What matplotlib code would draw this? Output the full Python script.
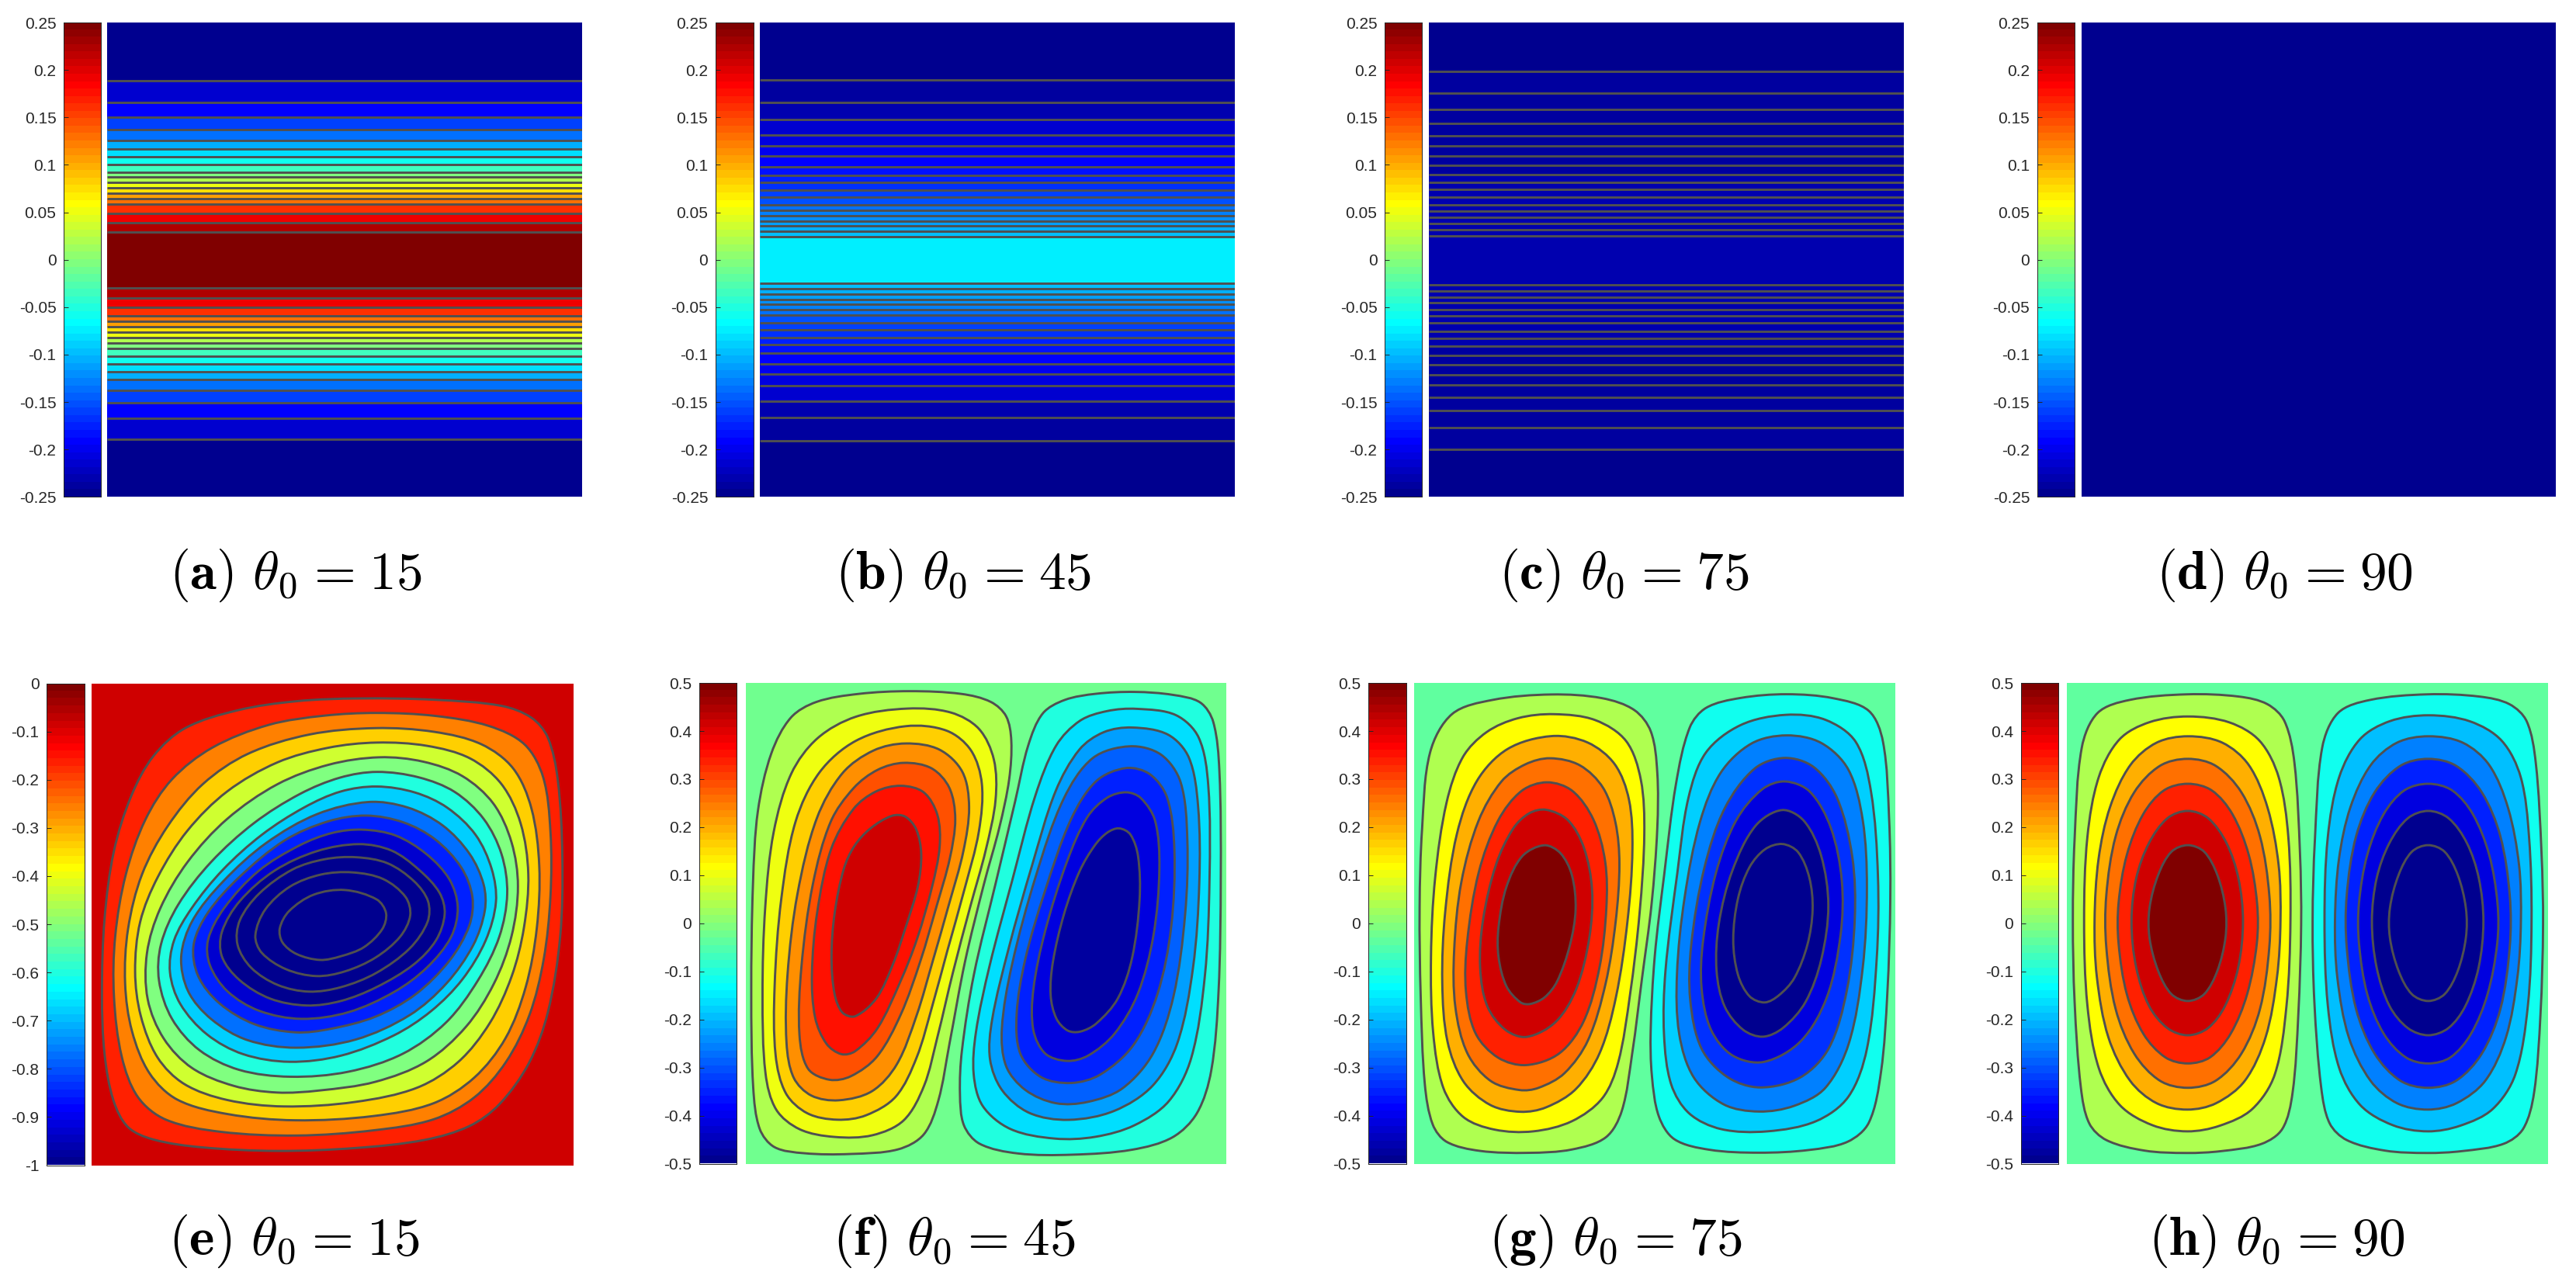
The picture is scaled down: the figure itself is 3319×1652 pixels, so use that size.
import matplotlib
matplotlib.use("Agg")
import matplotlib.pyplot as plt
import numpy as np

from matplotlib.colors import LinearSegmentedColormap, Normalize
from matplotlib.path import Path
from matplotlib.patches import PathPatch

plt.rcParams["font.family"] = ["Liberation Sans", "DejaVu Sans"]
plt.rcParams["mathtext.fontset"] = "cm"

W, H = 3319, 1652
LINE = "#505050"
DARK = "#262626"

# matlab style jet with 64 steps
jet64 = LinearSegmentedColormap.from_list(
    "jet64",
    [(0, (0, 0, 0.5625)), (7/63, (0, 0, 1)), (23/63, (0, 1, 1)),
     (39/63, (1, 1, 0)), (55/63, (1, 0, 0)), (1, (0.5, 0, 0))], N=64)

# ##### Tick labels #####

ticks_top = [-0.25, -0.2, -0.15, -0.1, -0.05, 0, 0.05, 0.1, 0.15, 0.2, 0.25]
labels_top = ["-0.25", "-0.2", "-0.15", "-0.1", "-0.05", "0", "0.05", "0.1",
              "0.15", "0.2", "0.25"]
ticks_e = [-1, -0.9, -0.8, -0.7, -0.6, -0.5, -0.4, -0.3, -0.2, -0.1, 0]
labels_e = ["-1", "-0.9", "-0.8", "-0.7", "-0.6", "-0.5", "-0.4", "-0.3",
            "-0.2", "-0.1", "0"]
ticks_low = [-0.5, -0.4, -0.3, -0.2, -0.1, 0, 0.1, 0.2, 0.3, 0.4, 0.5]
labels_low = ["-0.5", "-0.4", "-0.3", "-0.2", "-0.1", "0", "0.1", "0.2",
              "0.3", "0.4", "0.5"]

lines_a = [103.6, 131.6, 151, 167.3, 181.3, 191.7, 201.7, 212, 221.7, 228.3,
           235.3, 242.3, 249.3, 256.3, 263.3, 274.7, 287, 299.3,
           371.3, 383.5, 395.8, 407, 414, 421, 428, 435, 442, 449, 458.5,
           468.7, 479.3, 488.9, 503.2, 519.4, 538.8, 566.3]
bands_a = [-0.246, -0.215, -0.191, -0.160, -0.137, -0.105, -0.082, -0.059,
           -0.035, -0.004, 0.020, 0.051, 0.074, 0.105, 0.129, 0.160, 0.191,
           0.223, 0.246,
           0.223, 0.191, 0.160, 0.129, 0.105, 0.074, 0.051, 0.020, -0.004,
           -0.035, -0.059, -0.082, -0.105, -0.137, -0.160, -0.191, -0.215,
           -0.246]

lines_b = [102.6, 132.1, 153.6, 173.5, 188.3, 201.3, 214.7, 226.3, 235.3,
           245.3, 254.3, 264.3, 271, 277.7, 285, 291.3, 298.3, 305,
           365.3, 372.3, 379.3, 385.7, 392.3, 399.3, 406.3, 415.7, 425.3,
           435, 444.3, 455.3, 468.7, 482.3, 497.3, 516.8, 538.3, 568.4]
bands_b = [-0.246, -0.238, -0.230, -0.215, -0.207, -0.199, -0.191, -0.184,
           -0.176, -0.168, -0.160, -0.152, -0.137, -0.129, -0.121, -0.113,
           -0.105, -0.098, -0.074,
           -0.098, -0.105, -0.113, -0.121, -0.129, -0.137, -0.152, -0.160,
           -0.168, -0.176, -0.184, -0.191, -0.199, -0.207, -0.215, -0.230,
           -0.238, -0.246]

lines_c = [92.3, 119.9, 141.3, 158.7, 175, 188.3, 200.5, 213.3, 224.5, 234.7,
           244.4, 254.1, 263.8, 271.9, 279.6, 287.8, 295.9, 304.1,
           366.8, 375, 382.7, 390.3, 398.5, 407.1, 416.3, 426.5, 436.2, 446.4,
           457.7, 469.9, 482.7, 495.9, 512.2, 529.1, 551, 578.6]
bands_c = [-0.246, -0.238, -0.238, -0.238, -0.238, -0.238, -0.238, -0.238,
           -0.238, -0.230, -0.230, -0.230, -0.230, -0.230, -0.230, -0.230,
           -0.230, -0.230, -0.230,
           -0.230, -0.230, -0.230, -0.230, -0.230, -0.230, -0.230, -0.230,
           -0.230, -0.238, -0.238, -0.238, -0.238, -0.238, -0.238, -0.238,
           -0.238, -0.246]

lines_d = []
bands_d = [-0.246]

frame_e = (231, 1448, 1277, 60)
background_e = -0.086
bands_e = [-0.164, -0.258, -0.336, -0.430, -0.508, -0.602, -0.680, -0.773,
           -0.852, -0.930, -0.992, -0.992, -0.992, -0.992]
contours_e = [
    [(900, 97), (1100, 100), (1280, 115), (1345, 145), (1385, 190), (1410, 290), (1422, 500), (1418, 700), (1385, 900), (1340, 1020), (1260, 1130), (1190, 1180), (1080, 1215), (900, 1235), (700, 1243), (500, 1233), (380, 1213), (320, 1185), (285, 1120), (262, 1000), (256, 850), (262, 650), (285, 480), (330, 340), (385, 240), (460, 170), (600, 125), (750, 103)],
    [(950, 133), (1100, 140), (1240, 165), (1330, 210), (1375, 290), (1392, 430), (1392, 600), (1375, 760), (1340, 900), (1280, 1020), (1200, 1110), (1100, 1165), (950, 1190), (750, 1205), (550, 1195), (410, 1165), (345, 1110), (305, 1010), (285, 850), (288, 700), (315, 540), (365, 400), (430, 300), (530, 220), (680, 160), (820, 140)],
    [(950, 170), (1100, 180), (1220, 210), (1300, 270), (1345, 370), (1365, 520), (1358, 680), (1330, 830), (1280, 960), (1200, 1060), (1100, 1125), (950, 1155), (740, 1167), (570, 1150), (440, 1115), (375, 1050), (330, 940), (313, 820), (320, 680), (355, 540), (420, 420), (510, 310), (620, 235), (780, 185)],
    [(950, 207), (1080, 215), (1190, 245), (1270, 310), (1318, 410), (1338, 540), (1325, 680), (1295, 800), (1240, 920), (1160, 1020), (1060, 1085), (900, 1120), (710, 1132), (570, 1115), (460, 1075), (395, 1010), (352, 900), (338, 790), (350, 660), (395, 550), (470, 430), (570, 330), (700, 255), (830, 220)],
    [(960, 243), (1070, 255), (1170, 290), (1250, 360), (1295, 460), (1312, 570), (1295, 700), (1250, 820), (1180, 930), (1080, 1020), (950, 1070), (800, 1090), (700, 1096), (590, 1080), (480, 1035), (410, 960), (368, 860), (367, 740), (400, 630), (470, 510), (570, 400), (700, 310), (830, 262)],
    [(950, 280), (1060, 295), (1150, 330), (1225, 400), (1270, 490), (1285, 590), (1265, 700), (1210, 810), (1130, 920), (1020, 1000), (880, 1045), (730, 1057), (600, 1040), (500, 990), (430, 910), (397, 810), (402, 720), (445, 620), (530, 510), (640, 410), (760, 335), (860, 295)],
    [(950, 317), (1050, 333), (1130, 370), (1205, 440), (1245, 530), (1257, 610), (1230, 710), (1170, 810), (1090, 890), (1000, 950), (860, 1005), (730, 1020), (610, 1000), (520, 950), (450, 870), (425, 790), (435, 710), (480, 630), (560, 530), (660, 440), (770, 370), (860, 330)],
    [(935, 354), (1030, 370), (1120, 415), (1190, 490), (1225, 570), (1228, 630), (1200, 720), (1130, 820), (1040, 900), (900, 965), (745, 985), (620, 965), (530, 910), (470, 840), (452, 750), (480, 660), (560, 560), (670, 460), (800, 385)],
    [(925, 390), (1020, 408), (1100, 450), (1170, 525), (1197, 600), (1190, 670), (1140, 760), (1050, 850), (950, 905), (830, 935), (750, 945), (640, 925), (550, 870), (495, 800), (483, 720), (520, 640), (600, 550), (720, 450), (830, 405)],
    [(915, 427), (1000, 440), (1080, 490), (1140, 555), (1160, 625), (1145, 700), (1080, 780), (1000, 840), (880, 895), (760, 912), (650, 890), (570, 840), (525, 770), (520, 710), (560, 630), (650, 530), (760, 465), (840, 435)],
    [(910, 462), (990, 478), (1060, 530), (1115, 590), (1127, 640), (1105, 710), (1050, 770), (950, 830), (860, 865), (775, 877), (680, 860), (600, 810), (555, 750), (555, 690), (600, 610), (690, 530), (800, 480)],
    [(900, 497), (980, 510), (1050, 560), (1085, 610), (1085, 660), (1040, 730), (950, 795), (860, 830), (780, 842), (700, 825), (630, 780), (595, 720), (600, 660), (650, 590), (740, 525), (820, 502)],
    [(890, 535), (970, 550), (1030, 600), (1040, 645), (1015, 700), (950, 755), (870, 790), (800, 803), (720, 785), (655, 740), (640, 700), (665, 630), (730, 570), (810, 540)],
    [(870, 577), (960, 605), (978, 640), (970, 680), (920, 730), (860, 750), (810, 762), (745, 745), (710, 715), (703, 680), (725, 635), (790, 590)],
]

frame_f = (218, 1431, 1273, 59)
background_f = -0.023
bands_f_left = [0.039, 0.102, 0.164, 0.227, 0.289, 0.352, 0.414]
bands_f_right = [-0.102, -0.164, -0.227, -0.289, -0.352, -0.414, -0.477]
contours_f_left = [
    [(630, 78), (770, 85), (840, 105), (878, 140), (890, 200), (885, 300), (860, 420), (820, 560), (770, 760), (730, 980), (705, 1120), (670, 1205), (610, 1240), (480, 1250), (360, 1248), (285, 1235), (250, 1190), (235, 1100), (230, 850), (235, 550), (245, 380), (280, 230), (330, 140), (390, 105), (500, 85)],
    [(630, 120), (740, 130), (810, 170), (848, 250), (852, 350), (825, 480), (785, 620), (740, 790), (700, 960), (670, 1080), (620, 1170), (540, 1205), (440, 1208), (350, 1190), (290, 1140), (265, 1060), (258, 850), (265, 620), (285, 430), (330, 280), (395, 195), (490, 140)],
    [(625, 162), (730, 175), (790, 225), (818, 310), (810, 430), (770, 580), (725, 740), (690, 870), (650, 1010), (600, 1110), (520, 1155), (450, 1165), (370, 1150), (315, 1100), (290, 1010), (288, 830), (305, 600), (340, 400), (400, 280), (490, 200)],
    [(620, 208), (710, 222), (770, 280), (785, 370), (770, 480), (730, 620), (690, 760), (650, 900), (600, 1030), (540, 1095), (450, 1117), (380, 1105), (335, 1060), (318, 980), (320, 800), (345, 590), (395, 390), (460, 280), (540, 225)],
    [(615, 257), (690, 270), (735, 320), (750, 400), (735, 500), (700, 620), (660, 760), (610, 900), (550, 1010), (480, 1057), (430, 1065), (370, 1040), (350, 960), (355, 780), (385, 560), (430, 400), (490, 320), (550, 275)],
    [(610, 315), (670, 330), (705, 390), (710, 470), (690, 570), (650, 710), (610, 810), (550, 940), (490, 995), (460, 1000), (420, 975), (390, 910), (382, 800), (395, 640), (430, 470), (490, 370), (545, 330)],
    [(590, 390), (620, 393), (650, 425), (663, 490), (655, 570), (620, 680), (590, 770), (550, 860), (490, 908), (460, 895), (440, 850), (432, 750), (440, 640), (465, 520), (490, 470), (530, 425)],
]
contours_f_right = [
    [(1200, 80), (1300, 88), (1370, 105), (1400, 150), (1415, 260), (1418, 550), (1413, 850), (1395, 1050), (1360, 1150), (1300, 1210), (1200, 1240), (1040, 1252), (900, 1250), (800, 1225), (765, 1180), (757, 1100), (760, 1000), (790, 800), (850, 560), (900, 350), (930, 210), (965, 130), (1020, 100), (1100, 85)],
    [(1200, 122), (1310, 135), (1365, 190), (1388, 300), (1390, 560), (1380, 800), (1345, 1020), (1290, 1120), (1200, 1180), (1100, 1208), (1000, 1213), (880, 1190), (810, 1130), (790, 1050), (795, 950), (830, 780), (890, 560), (950, 330), (1000, 210), (1060, 150), (1130, 128)],
    [(1190, 168), (1290, 185), (1340, 240), (1362, 360), (1365, 560), (1350, 780), (1310, 980), (1250, 1080), (1150, 1145), (1030, 1167), (930, 1150), (860, 1090), (830, 1010), (835, 920), (880, 730), (940, 520), (1000, 320), (1060, 220), (1120, 180)],
    [(1190, 213), (1270, 235), (1320, 300), (1335, 450), (1330, 640), (1300, 860), (1250, 1000), (1170, 1090), (1080, 1120), (1000, 1125), (920, 1090), (870, 1030), (860, 940), (885, 780), (950, 540), (1020, 340), (1090, 240)],
    [(1180, 268), (1240, 285), (1285, 340), (1303, 470), (1295, 680), (1260, 850), (1200, 980), (1110, 1055), (1040, 1073), (960, 1060), (905, 1000), (898, 900), (920, 760), (970, 590), (1040, 390), (1100, 300)],
    [(1180, 332), (1215, 345), (1255, 400), (1265, 520), (1250, 700), (1210, 850), (1150, 950), (1080, 1005), (1030, 1017), (970, 1000), (940, 940), (940, 840), (970, 690), (1030, 500), (1080, 390), (1130, 345)],
    [(1160, 423), (1190, 437), (1210, 490), (1215, 600), (1195, 760), (1160, 860), (1100, 925), (1060, 942), (1030, 940), (1000, 910), (985, 850), (990, 770), (1020, 640), (1060, 530), (1100, 465), (1130, 435)],
]

frame_g = (239, 1454, 1273, 59)
background_g = -0.039
bands_g_left = [0.039, 0.117, 0.195, 0.258, 0.336, 0.414, 0.492]
bands_g_right = [-0.117, -0.180, -0.258, -0.336, -0.414, -0.492, -0.492]
contours_g_left = [
    [(590, 85), (720, 95), (800, 125), (840, 175), (855, 280), (855, 420), (840, 620), (815, 800), (790, 1000), (765, 1150), (730, 1210), (640, 1240), (530, 1247), (400, 1243), (315, 1220), (285, 1180), (265, 1090), (255, 850), (252, 620), (258, 430), (275, 220), (330, 130), (430, 100)],
    [(590, 135), (700, 148), (780, 200), (815, 300), (823, 430), (810, 640), (785, 850), (755, 1030), (720, 1110), (640, 1170), (540, 1195), (440, 1190), (360, 1160), (310, 1090), (285, 950), (280, 750), (290, 550), (320, 350), (360, 240), (420, 180), (500, 145)],
    [(590, 187), (680, 205), (750, 260), (785, 350), (793, 470), (780, 660), (750, 860), (710, 1000), (650, 1090), (570, 1135), (510, 1145), (430, 1130), (360, 1070), (320, 970), (308, 820), (315, 640), (345, 430), (395, 300), (470, 220)],
    [(580, 245), (660, 262), (720, 320), (750, 410), (760, 510), (750, 660), (725, 820), (680, 970), (620, 1050), (550, 1085), (510, 1090), (430, 1070), (370, 1000), (340, 880), (338, 740), (355, 560), (400, 400), (460, 300), (520, 262)],
    [(575, 305), (640, 325), (695, 400), (725, 510), (727, 620), (710, 780), (670, 920), (610, 1000), (520, 1030), (450, 1010), (390, 950), (367, 840), (370, 720), (400, 530), (450, 400), (510, 325)],
    [(570, 375), (630, 400), (670, 470), (692, 580), (685, 700), (650, 840), (600, 920), (520, 960), (470, 940), (420, 880), (403, 780), (410, 660), (445, 510), (490, 420), (530, 385)],
    [(570, 463), (610, 485), (640, 540), (650, 630), (635, 720), (600, 820), (570, 855), (530, 872), (510, 870), (470, 830), (450, 750), (450, 680), (470, 570), (510, 490)],
]
contours_g_right = [
    [(1180, 85), (1300, 95), (1395, 125), (1425, 190), (1440, 400), (1443, 600), (1435, 850), (1420, 1050), (1390, 1180), (1340, 1220), (1240, 1240), (1110, 1247), (980, 1240), (890, 1215), (855, 1160), (838, 1050), (835, 950), (845, 750), (870, 550), (900, 300), (935, 160), (970, 120), (1060, 95)],
    [(1180, 135), (1280, 147), (1360, 200), (1395, 320), (1413, 550), (1410, 750), (1385, 1000), (1340, 1110), (1260, 1170), (1130, 1195), (1010, 1190), (930, 1150), (885, 1080), (868, 950), (870, 800), (905, 530), (930, 340), (970, 230), (1060, 160)],
    [(1180, 187), (1270, 205), (1340, 270), (1375, 400), (1385, 570), (1375, 780), (1340, 980), (1280, 1090), (1200, 1130), (1110, 1145), (1020, 1130), (940, 1060), (905, 950), (900, 800), (920, 600), (960, 400), (1010, 280), (1090, 205)],
    [(1175, 243), (1250, 265), (1310, 340), (1350, 500), (1355, 650), (1335, 840), (1290, 990), (1220, 1060), (1110, 1087), (1030, 1060), (960, 990), (933, 860), (935, 730), (970, 520), (1020, 370), (1100, 265)],
    [(1175, 303), (1240, 325), (1295, 420), (1323, 560), (1320, 690), (1285, 860), (1220, 970), (1120, 1025), (1040, 1005), (985, 940), (962, 830), (965, 720), (1000, 530), (1050, 400), (1120, 320)],
    [(1170, 372), (1225, 400), (1270, 490), (1290, 620), (1270, 760), (1230, 870), (1170, 935), (1120, 957), (1070, 940), (1020, 880), (1000, 790), (1005, 670), (1040, 530), (1100, 410)],
    [(1170, 462), (1210, 480), (1240, 550), (1248, 630), (1235, 720), (1200, 810), (1160, 850), (1125, 870), (1085, 855), (1055, 800), (1042, 710), (1055, 600), (1085, 520), (1125, 475)],
]

frame_h = (213, 1494, 1273, 59)
background_h = -0.039
bands_h_left = [0.039, 0.117, 0.195, 0.258, 0.336, 0.414, 0.492]
bands_h_right = [-0.117, -0.195, -0.258, -0.352, -0.414, -0.492, -0.492]
contours_h_left = [
    [(535, 85), (680, 92), (750, 110), (795, 150), (820, 240), (835, 500), (838, 660), (830, 900), (815, 1110), (790, 1190), (740, 1225), (620, 1243), (535, 1247), (420, 1243), (310, 1215), (270, 1175), (250, 1100), (232, 860), (228, 660), (232, 460), (250, 200), (290, 130), (370, 100)],
    [(535, 140), (650, 155), (730, 200), (780, 290), (805, 440), (810, 660), (800, 880), (770, 1060), (710, 1140), (620, 1180), (535, 1195), (440, 1180), (350, 1130), (295, 1040), (265, 880), (257, 660), (265, 440), (295, 290), (350, 195), (430, 155)],
    [(535, 190), (630, 205), (700, 260), (750, 370), (780, 520), (783, 660), (775, 800), (745, 960), (690, 1070), (610, 1125), (535, 1140), (450, 1125), (380, 1070), (320, 960), (290, 800), (285, 660), (295, 500), (325, 370), (380, 260), (450, 205)],
    [(535, 247), (610, 262), (680, 330), (730, 440), (755, 600), (755, 720), (730, 890), (680, 1000), (610, 1070), (535, 1085), (460, 1070), (390, 1000), (340, 890), (315, 720), (315, 600), (340, 440), (390, 330), (460, 262)],
    [(535, 310), (600, 325), (655, 385), (700, 490), (722, 620), (722, 710), (695, 850), (650, 950), (595, 1010), (535, 1023), (475, 1010), (415, 950), (370, 850), (348, 710), (348, 620), (370, 490), (415, 385), (470, 325)],
    [(535, 378), (590, 395), (640, 460), (672, 550), (685, 660), (672, 780), (635, 880), (590, 935), (535, 953), (480, 935), (430, 880), (395, 780), (382, 660), (395, 550), (430, 460), (480, 395)],
    [(535, 465), (580, 480), (615, 540), (638, 630), (638, 700), (615, 790), (580, 850), (535, 866), (490, 850), (455, 790), (430, 700), (430, 630), (455, 540), (490, 480)],
]
contours_h_right = [
    [(1175, 85), (1320, 92), (1395, 110), (1440, 150), (1462, 240), (1478, 500), (1482, 660), (1475, 900), (1458, 1110), (1430, 1190), (1385, 1225), (1260, 1243), (1175, 1247), (1060, 1243), (950, 1215), (910, 1175), (890, 1100), (870, 860), (866, 660), (872, 460), (890, 200), (930, 130), (1010, 100)],
    [(1175, 137), (1290, 152), (1375, 200), (1425, 290), (1445, 440), (1452, 660), (1443, 880), (1410, 1060), (1350, 1140), (1260, 1180), (1175, 1195), (1080, 1180), (990, 1130), (935, 1040), (905, 880), (897, 660), (905, 440), (935, 290), (990, 195), (1070, 152)],
    [(1175, 190), (1270, 205), (1340, 260), (1390, 370), (1420, 520), (1423, 660), (1415, 800), (1385, 960), (1330, 1070), (1250, 1125), (1175, 1140), (1090, 1125), (1020, 1070), (960, 960), (930, 800), (925, 660), (935, 500), (965, 370), (1020, 260), (1090, 205)],
    [(1175, 247), (1250, 262), (1320, 330), (1370, 440), (1395, 600), (1395, 720), (1370, 890), (1320, 1000), (1250, 1070), (1175, 1085), (1100, 1070), (1030, 1000), (980, 890), (955, 720), (955, 600), (980, 440), (1030, 330), (1100, 262)],
    [(1175, 310), (1240, 325), (1295, 385), (1340, 490), (1362, 620), (1362, 710), (1335, 850), (1290, 950), (1235, 1010), (1175, 1023), (1115, 1010), (1055, 950), (1010, 850), (988, 710), (988, 620), (1010, 490), (1055, 385), (1110, 325)],
    [(1175, 378), (1230, 395), (1280, 460), (1312, 550), (1325, 660), (1312, 780), (1275, 880), (1230, 935), (1175, 953), (1120, 935), (1070, 880), (1035, 780), (1022, 660), (1035, 550), (1070, 460), (1120, 395)],
    [(1175, 465), (1220, 480), (1255, 540), (1278, 630), (1278, 700), (1255, 790), (1220, 850), (1175, 866), (1130, 850), (1095, 790), (1070, 700), (1070, 630), (1095, 540), (1130, 480)],
]


def add_axes_px(fig, x0, x1, y0, y1):
    return fig.add_axes([x0/W, 1 - y1/H, (x1 - x0)/W, (y1 - y0)/H])


def colorbar(fig, box, ticks, labels):
    ax = add_axes_px(fig, *box)
    ramp = np.arange(64).reshape(-1, 1)
    ax.imshow(ramp, cmap=jet64, origin="lower", aspect="auto",
              extent=[0, 1, ticks[0], ticks[-1]], interpolation="nearest")
    ax.set_xticks([])
    ax.set_yticks(ticks)
    ax.set_yticklabels(labels, fontsize=15, color=DARK)
    ax.tick_params(axis="y", direction="in", length=4.5, width=0.7,
                   color=DARK, pad=7)
    for spine in ax.spines.values():
        spine.set_linewidth(0.7)
        spine.set_color(DARK)


def blank(ax):
    ax.set_xticks([])
    ax.set_yticks([])
    for spine in ax.spines.values():
        spine.set_visible(False)


def stripes(fig, box, lines, bands, vrange):
    x0, x1, y0, y1 = box
    ax = add_axes_px(fig, x0, x1, y0, y1)
    edges = np.array([y0] + lines + [y1])
    ax.pcolormesh([0, 1], edges, np.array(bands).reshape(-1, 1), cmap=jet64,
                  vmin=vrange[0], vmax=vrange[1])
    if lines:
        ax.hlines(lines, 0, 1, color=LINE, lw=2.1)
    ax.set_xlim(0, 1)
    ax.set_ylim(y1, y0)
    blank(ax)


def smooth_path(points):
    # closed curve through the traced points, handles scaled by chord length
    # so that short and long segments next to each other don't bulge
    pts = np.array(points, dtype=float)
    # take the reading noise out of the hand traced points
    pts = 0.76*pts + 0.12*(np.roll(pts, 1, axis=0) + np.roll(pts, -1, axis=0))
    n = len(pts)
    prev_gap = np.linalg.norm(pts - np.roll(pts, 1, axis=0), axis=1)
    next_gap = np.roll(prev_gap, -1)
    tangent = (np.roll(pts, -1, axis=0) - np.roll(pts, 1, axis=0))
    tangent = tangent/(prev_gap + next_gap)[:, None]
    verts = [pts[0]]
    codes = [Path.MOVETO]
    for i in range(n):
        j = (i + 1) % n
        verts += [pts[i] + tangent[i]*next_gap[i]/3,
                  pts[j] - tangent[j]*next_gap[i]/3, pts[j]]
        codes += [Path.CURVE4]*3
    return Path(verts, codes)


def cells(fig, box, frame, background, groups, vrange):
    ax = add_axes_px(fig, *box)
    norm = Normalize(*vrange)
    ax.set_facecolor(jet64(norm(background)))
    for contours, bands in groups:
        for points, band in zip(contours, bands):
            ax.add_patch(PathPatch(smooth_path(points),
                                   facecolor=jet64(norm(band)),
                                   edgecolor=LINE, lw=2.1))
    ax.set_xlim(frame[0], frame[1])
    ax.set_ylim(frame[2], frame[3])
    blank(ax)


def caption(fig, letter, angle, x, y):
    fig.text(x/W, 1 - y/H,
             r"$\mathbf{(%s)}\ \theta_0\hspace{0.08}=\hspace{0.08}%d$"
             % (letter, angle),
             fontsize=50, ha="center", va="baseline", color="black")


fig = plt.figure(figsize=(W/100, H/100), dpi=100, facecolor="white")

# ##### Top row #####

top = (29.1, 640.3)
colorbar(fig, (82.1, 129.6, *top), ticks_top, labels_top)
stripes(fig, (137.8, 750, *top), lines_a, bands_a, (-0.25, 0.25))
caption(fig, "a", 15, 381, 759)

colorbar(fig, (921.9, 970.9, *top), ticks_top, labels_top)
stripes(fig, (979, 1590.8, *top), lines_b, bands_b, (-0.25, 0.25))
caption(fig, "b", 45, 1241, 759)

colorbar(fig, (1784.2, 1831.6, *top), ticks_top, labels_top)
stripes(fig, (1840.8, 2453, *top), lines_c, bands_c, (-0.25, 0.25))
caption(fig, "c", 75, 2092, 759)

colorbar(fig, (2624.9, 2672.6, *top), ticks_top, labels_top)
stripes(fig, (2682, 3293, *top), lines_d, bands_d, (-0.25, 0.25))
caption(fig, "d", 90, 2943, 759)

# ##### Bottom row #####

colorbar(fig, (60.2, 108.7, 880.6, 1501.5), ticks_e, labels_e)
cells(fig, (117.9, 738.8, 880.6, 1501.5), frame_e, background_e,
      [(contours_e, bands_e)], (-1, 0))
caption(fig, "e", 15, 379, 1617)

low = (880.1, 1499.5)
colorbar(fig, (901, 949.5, *low), ticks_low, labels_low)
cells(fig, (961.2, 1580, *low), frame_f, background_f,
      [(contours_f_left, bands_f_left), (contours_f_right, bands_f_right)],
      (-0.5, 0.5))
caption(fig, "f", 45, 1229, 1617)

colorbar(fig, (1762.8, 1811.7, *low), ticks_low, labels_low)
cells(fig, (1821.9, 2441.8, *low), frame_g, background_g,
      [(contours_g_left, bands_g_left), (contours_g_right, bands_g_right)],
      (-0.5, 0.5))
caption(fig, "g", 75, 2081, 1617)

colorbar(fig, (2604, 2652.4, *low), ticks_low, labels_low)
cells(fig, (2663, 3283, *low), frame_h, background_h,
      [(contours_h_left, bands_h_left), (contours_h_right, bands_h_right)],
      (-0.5, 0.5))
caption(fig, "h", 90, 2933, 1617)

fig.savefig("out.png", dpi=100)
plt.close(fig)
